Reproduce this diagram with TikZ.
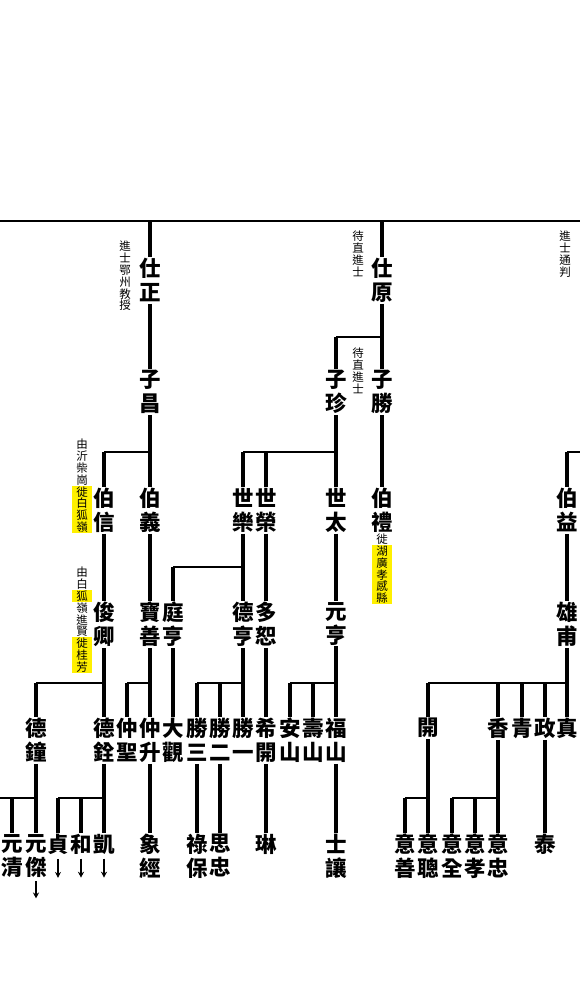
\documentclass[tikz,border=0pt]{standalone}
\usepackage{fontspec}
\newfontfamily\cjk{Noto Sans CJK TC}
\usetikzlibrary{positioning,arrows.meta}
\definecolor{hl}{RGB}{255,240,0}
\begin{document}
\begin{tikzpicture}[x=1pt,y=-1pt,
person/.style={anchor=north,inner sep=1pt,align=center,font=\cjk\bfseries\fontsize{21.5}{24}\selectfont,
  execute at begin node={\vphantom{國}},execute at end node={\vphantom{國}}},
note/.style={anchor=north,inner sep=0pt,align=center,font=\cjk\fontsize{11.5}{11.8}\selectfont,
  execute at begin node={\vphantom{國}},execute at end node={\vphantom{國}}},
hlnote/.style={note,fill=hl,inner xsep=4pt,inner ysep=0.8pt},
stemline/.style={line width=3.6pt},
barline/.style={line width=1.4pt},
down/.style={-{Stealth[length=6pt,width=6pt]},line width=1.2pt,shorten <=3pt}]
\useasboundingbox (0,0) rectangle (580,982);
\coordinate (g0) at (0,221); \coordinate (g0e) at (580,221);
\coordinate (g1) at (0,337); \coordinate (g2) at (0,452); \coordinate (g2e) at (580,452);
\coordinate (g3) at (0,567); \coordinate (g4) at (0,683); \coordinate (g5) at (0,798);

\node[person] (shizheng) at (150,257) {仕\\正};
\node[person] (shiyuan) at (382,257) {仕\\原};

\node[person] (zichang) at (150,369) {子\\昌};
\node[person] (zizhen) at (336,369) {子\\珍};
\node[person] (zisheng) at (382,369) {子\\勝};

\node[person] (boxin) at (104,487) {伯\\信};
\node[person] (boyi) at (150,487) {伯\\義};
\node[person] (shile) at (243,487) {世\\樂};
\node[person] (shirong) at (266,487) {世\\榮};
\node[person] (shitai) at (336,487) {世\\太};
\node[person] (boli) at (382,487) {伯\\禮};
\node[person] (boyiy) at (567,487) {伯\\益};

\node[person] (junqing) at (104,601) {俊\\卿};
\node[person] (baoshan) at (150,601) {寶\\善};
\node[person] (tingheng) at (173,601) {庭\\亨};
\node[person] (deheng) at (243,601) {德\\亨};
\node[person] (duoshu) at (266,601) {多\\恕};
\node[person] (yuanheng) at (336,601) {元\\亨};
\node[person] (xiongfu) at (567,601) {雄\\甫};

\node[person] (dezhong) at (36,717) {德\\鐘};
\node[person] (dequan) at (104,717) {德\\銓};
\node[person] (zhongsheng) at (127,717) {仲\\聖};
\node[person] (zhongshen) at (150,717) {仲\\升};
\node[person] (daguan) at (173,717) {大\\觀};
\node[person] (shengsan) at (197,717) {勝\\三};
\node[person] (shenger) at (220,717) {勝\\二};
\node[person] (shengyi) at (243,717) {勝\\一};
\node[person] (xikai) at (266,717) {希\\開};
\node[person] (anshan) at (290,717) {安\\山};
\node[person] (shoushan) at (313,717) {壽\\山};
\node[person] (fushan) at (336,717) {福\\山};
\node[person] (kai) at (428,717) {開};
\node[person] (xiang) at (498,717) {香};
\node[person] (qing) at (522,717) {青};
\node[person] (zheng) at (545,717) {政};
\node[person] (zhen) at (567,717) {真};

\node[person] (yuanqing) at (12,833) {元\\清};
\node[person] (yuanjie) at (36,833) {元\\傑};
\node[person] (zhenA) at (58,833) {貞};
\node[person] (he) at (81,833) {和};
\node[person] (kaiA) at (104,833) {凱};
\node[person] (xiangjing) at (150,833) {象\\經};
\node[person] (lubao) at (197,833) {祿\\保};
\node[person] (sizhong) at (220,833) {思\\忠};
\node[person] (lin) at (266,833) {琳};
\node[person] (shirang) at (336,833) {士\\讓};
\node[person] (yishan) at (405,833) {意\\善};
\node[person] (yicong) at (428,833) {意\\聰};
\node[person] (yiquan) at (452,833) {意\\全};
\node[person] (yixiao) at (475,833) {意\\孝};
\node[person] (yizhong) at (498,833) {意\\忠};
\node[person] (tai) at (545,833) {泰};

\node[note] (nzheng) at (125,241) {進\\士\\鄂\\州\\教\\授};
\node[note] (nyuan) at (358,231) {待\\直\\進\\士};
\node[note] (nsheng) at (358,348) {待\\直\\進\\士};
\node[note] (nright) at (565,231) {進\\士\\通\\判};
\node[note] (nxin) at (82,439) {由\\沂\\柴\\崗};
\node[hlnote,below=0pt of nxin] (nxinb) {徙\\白\\狐\\嶺};
\node[note] (nqing) at (82,567) {由\\白};
\node[hlnote,below=0pt of nqing] (nqingb) {狐};
\node[note,below=0pt of nqingb] (nqingc) {嶺\\進\\賢};
\node[hlnote,below=0pt of nqingc] (nqingd) {徙\\桂\\芳};
\node[note,below=0pt of boli] (nli) {徙};
\node[hlnote,below=0pt of nli] (nlib) {湖\\廣\\孝\\感\\縣};

\coordinate[below=20pt of yuanjie] (yuanjieend);
\coordinate[below=22pt of zhenA] (zhenAend);
\coordinate[below=22pt of he] (heend);
\coordinate[below=22pt of kaiA] (kaiAend);

\draw[barline] (g0) -- (g0e);
\draw[stemline] (shizheng |- g0) -- (shizheng.north); \draw[stemline] (shiyuan |- g0) -- (shiyuan.north);
\draw[stemline] (shizheng.south) -- (zichang.north);
\draw[stemline] (shiyuan.south) -- (zisheng.north);
\draw[barline] (zizhen |- g1) -- (shiyuan |- g1); \draw[stemline] (zizhen |- g1) -- (zizhen.north);

\draw[stemline] (zichang.south) -- (boyi.north);
\draw[barline] (boxin |- g2) -- (zichang |- g2); \draw[stemline] (boxin |- g2) -- (boxin.north);
\draw[stemline] (zizhen.south) -- (shitai.north);
\draw[barline] (shile |- g2) -- (zizhen |- g2);
\draw[stemline] (shile |- g2) -- (shile.north); \draw[stemline] (shirong |- g2) -- (shirong.north);
\draw[stemline] (zisheng.south) -- (boli.north);
\draw[barline] (boyiy |- g2) -- (g2e); \draw[stemline] (boyiy |- g2) -- (boyiy.north);

\draw[stemline] (boxin.south) -- (junqing.north); \draw[stemline] (boyi.south) -- (baoshan.north);
\draw[stemline] (shile.south) -- (deheng.north);
\draw[barline] (tingheng |- g3) -- (shile |- g3); \draw[stemline] (tingheng |- g3) -- (tingheng.north);
\draw[stemline] (shirong.south) -- (duoshu.north); \draw[stemline] (shitai.south) -- (yuanheng.north);
\draw[stemline] (boyiy.south) -- (xiongfu.north);

\draw[stemline] (junqing.south) -- (dequan.north);
\draw[barline] (dezhong |- g4) -- (junqing |- g4); \draw[stemline] (dezhong |- g4) -- (dezhong.north);
\draw[stemline] (baoshan.south) -- (zhongshen.north);
\draw[barline] (zhongsheng |- g4) -- (baoshan |- g4); \draw[stemline] (zhongsheng |- g4) -- (zhongsheng.north);
\draw[stemline] (tingheng.south) -- (daguan.north);
\draw[stemline] (deheng.south) -- (shengyi.north);
\draw[barline] (shengsan |- g4) -- (deheng |- g4);
\draw[stemline] (shengsan |- g4) -- (shengsan.north); \draw[stemline] (shenger |- g4) -- (shenger.north);
\draw[stemline] (duoshu.south) -- (xikai.north);
\draw[stemline] (yuanheng.south) -- (fushan.north);
\draw[barline] (anshan |- g4) -- (yuanheng |- g4);
\draw[stemline] (anshan |- g4) -- (anshan.north); \draw[stemline] (shoushan |- g4) -- (shoushan.north);
\draw[stemline] (xiongfu.south) -- (zhen.north);
\draw[barline] (kai |- g4) -- (xiongfu |- g4);
\draw[stemline] (kai |- g4) -- (kai.north); \draw[stemline] (xiang |- g4) -- (xiang.north);
\draw[stemline] (qing |- g4) -- (qing.north); \draw[stemline] (zheng |- g4) -- (zheng.north);

\draw[stemline] (dezhong.south) -- (yuanjie.north);
\draw[barline] (g5) -- (dezhong |- g5); \draw[stemline] (yuanqing |- g5) -- (yuanqing.north);
\draw[stemline] (dequan.south) -- (kaiA.north);
\draw[barline] (zhenA |- g5) -- (dequan |- g5);
\draw[stemline] (zhenA |- g5) -- (zhenA.north); \draw[stemline] (he |- g5) -- (he.north);
\draw[stemline] (zhongshen.south) -- (xiangjing.north);
\draw[stemline] (shengsan.south) -- (lubao.north); \draw[stemline] (shenger.south) -- (sizhong.north);
\draw[stemline] (xikai.south) -- (lin.north); \draw[stemline] (fushan.south) -- (shirang.north);
\draw[stemline] (kai.south) -- (yicong.north);
\draw[barline] (yishan |- g5) -- (kai |- g5); \draw[stemline] (yishan |- g5) -- (yishan.north);
\draw[stemline] (xiang.south) -- (yizhong.north);
\draw[barline] (yiquan |- g5) -- (xiang |- g5);
\draw[stemline] (yiquan |- g5) -- (yiquan.north); \draw[stemline] (yixiao |- g5) -- (yixiao.north);
\draw[stemline] (zheng.south) -- (tai.north);

\draw[down] (yuanjie.south) -- (yuanjieend);
\draw[down] (zhenA.south) -- (zhenAend); \draw[down] (he.south) -- (heend); \draw[down] (kaiA.south) -- (kaiAend);
\end{tikzpicture}
\end{document}
